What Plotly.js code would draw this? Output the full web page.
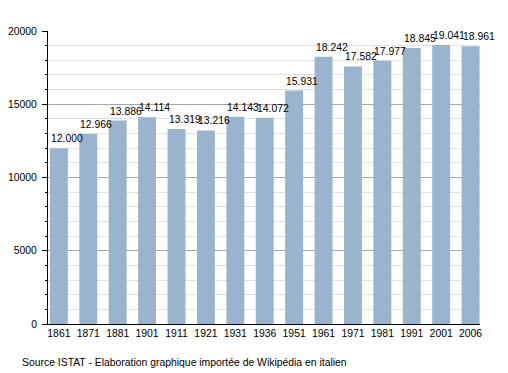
<!DOCTYPE html>
<html>
<head>
<meta charset="utf-8">
<script src="https://cdn.plot.ly/plotly-3.0.1.min.js"></script>
<style>
  html, body { margin: 0; padding: 0; background: #fff; }
  #chart { width: 508px; height: 373px; }
</style>
</head>
<body>
<div id="chart"></div>
<script>
const years = ["1861","1871","1881","1901","1911","1921","1931","1936","1951","1961","1971","1981","1991","2001","2006"];
const population = [12000, 12966, 13886, 14114, 13319, 13216, 14143, 14072, 15931, 18242, 17582, 17977, 18845, 19041, 18961];
const sourceNote = "Source ISTAT - Elaboration graphique importée de Wikipédia en italien";

const FONT = "'Liberation Sans', Arial, sans-serif";
const FS = 10.4;

function fmt(v) {
  const s = String(v);
  return s.slice(0, s.length - 3) + "." + s.slice(s.length - 3);
}

const trace = {
  type: "bar",
  x: years,
  y: population,
  marker: { color: "#9bb4cd", line: { width: 0 } },
  hoverinfo: "skip"
};

const annotations = years.map((yr, i) => ({
  x: i,
  y: population[i],
  xref: "x",
  yref: "y",
  text: fmt(population[i]),
  showarrow: false,
  xanchor: "left",
  yanchor: "bottom",
  xshift: -10,
  yshift: 2,
  font: { family: FONT, size: FS, color: "#000" }
}));

annotations.push({
  xref: "paper", yref: "paper",
  x: -0.065, y: -0.13,
  xanchor: "left", yanchor: "middle",
  showarrow: false,
  text: sourceNote,
  font: { family: FONT, size: FS, color: "#000" }
});

const layout = {
  width: 508,
  height: 373,
  margin: { l: 48, r: 28, t: 31, b: 49 },
  paper_bgcolor: "#fff",
  plot_bgcolor: "#fff",
  showlegend: false,
  bargap: 0.39,
  font: { family: FONT, size: FS, color: "#000" },
  xaxis: {
    type: "category",
    range: [-0.37, 14.32],
    showline: true,
    linecolor: "#000",
    linewidth: 1,
    ticks: "",
    showgrid: false,
    zeroline: false,
    tickfont: { family: FONT, size: FS, color: "#000" },
    fixedrange: true
  },
  yaxis: {
    range: [0, 20000],
    tickvals: [0, 5000, 10000, 15000, 20000],
    ticktext: ["0", "5000", "10000", "15000", "20000"],
    showline: true,
    linecolor: "#000",
    linewidth: 1,
    ticks: "outside",
    ticklen: 5,
    tickcolor: "#000",
    ticklabelstandoff: 3,
    showgrid: true,
    gridcolor: "#a8a8a8",
    gridwidth: 1,
    zeroline: false,
    minor: {
      dtick: 1000,
      ticks: "outside",
      ticklen: 2,
      tickcolor: "#000",
      showgrid: true,
      gridcolor: "#e2e2e2",
      gridwidth: 1
    },
    tickfont: { family: FONT, size: FS, color: "#000" },
    fixedrange: true
  },
  annotations: annotations
};

Plotly.newPlot("chart", [trace], layout, { staticPlot: true, displayModeBar: false });
</script>
</body>
</html>
